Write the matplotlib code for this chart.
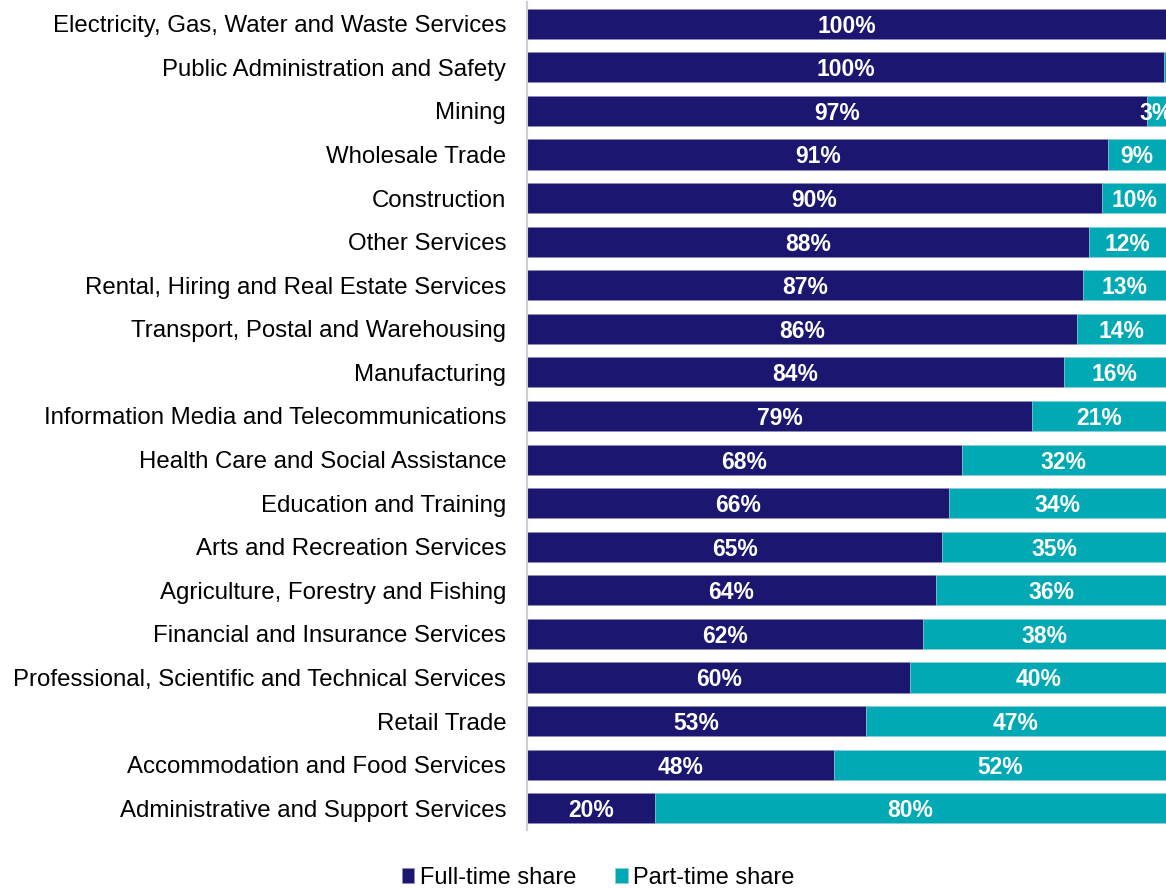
import numpy as np
import matplotlib.pyplot as plt

plt.rcParams['font.family'] = ['Liberation Sans', 'DejaVu Sans']

industries = [
    'Electricity, Gas, Water and Waste Services',
    'Public Administration and Safety',
    'Mining',
    'Wholesale Trade',
    'Construction',
    'Other Services',
    'Rental, Hiring and Real Estate Services',
    'Transport, Postal and Warehousing',
    'Manufacturing',
    'Information Media and Telecommunications',
    'Health Care and Social Assistance',
    'Education and Training',
    'Arts and Recreation Services',
    'Agriculture, Forestry and Fishing',
    'Financial and Insurance Services',
    'Professional, Scientific and Technical Services',
    'Retail Trade',
    'Accommodation and Food Services',
    'Administrative and Support Services',
]
full_time = [100, 99.7, 97, 91, 90, 88, 87, 86, 84, 79, 68, 66, 65, 64, 62, 60, 53, 48, 20]
part_time = [0, 0.3, 3, 9, 10, 12, 13, 14, 16, 21, 32, 34, 35, 36, 38, 40, 47, 52, 80]

navy = '#1b1670'
teal = '#00a9b3'

fig = plt.figure(figsize=(11.66, 8.88), dpi=100)
ax = fig.add_axes([0.452, 0.0653, 0.548, 0.9325])

y = np.arange(len(industries))
ft = np.array(full_time)
pt = np.array(part_time)
b1 = ax.barh(y, ft, height=0.69, color=navy, edgecolor='#8f8fc0', linewidth=0.4, label='Full-time share')
b2 = ax.barh(y, pt, left=ft, height=0.69, color=teal, edgecolor='#8fd0d5', linewidth=0.4, label='Part-time share')

for i in range(len(industries)):
    ax.text(ft[i] / 2, y[i], '%d%%' % round(ft[i]), ha='center', va='center_baseline',
            color='white', fontsize=16.5, fontweight='bold')
    if pt[i] >= 1:
        ax.text(ft[i] + pt[i] / 2, y[i], '%d%%' % round(pt[i]), ha='center', va='center_baseline',
                color='white', fontsize=16.5, fontweight='bold', clip_on=False)

ax.set_xlim(0, 100)
ax.set_ylim(len(industries) - 0.5, -0.5)
ax.set_yticks(y)
ax.set_yticklabels(industries, fontsize=17.3)
ax.tick_params(axis='y', length=0, pad=15)
ax.set_xticks([])
for s in ['top', 'right', 'bottom']:
    ax.spines[s].set_visible(False)
ax.spines['left'].set_color('#d0d0d0')
ax.spines['left'].set_linewidth(1.5)

fig.legend(handles=[b1, b2], loc='lower center', bbox_to_anchor=(0.513, -0.017), ncol=2,
           frameon=False, fontsize=17, handlelength=0.55, handleheight=0.55,
           handletextpad=0.25, columnspacing=1.6, borderpad=0.1)

fig.savefig('out.png', dpi=100)
